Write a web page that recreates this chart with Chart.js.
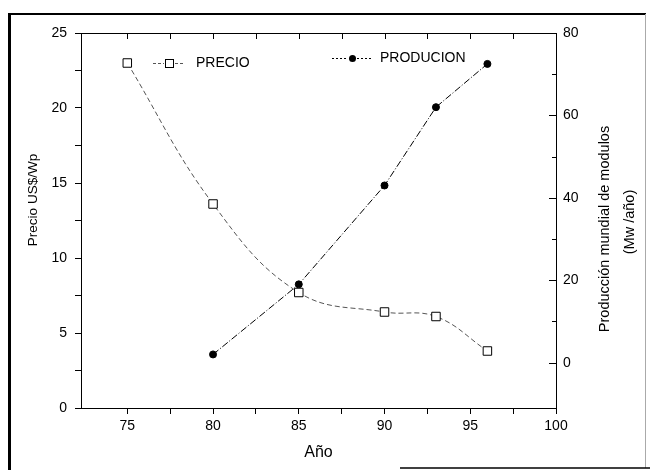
<!DOCTYPE html>
<html>
<head>
<meta charset="utf-8">
<script src="https://cdn.jsdelivr.net/npm/chart.js@4/dist/chart.umd.min.js"></script>
<style>
  html, body { margin: 0; padding: 0; background: #fff; }
  #wrap { width: 650px; height: 470px; position: relative; }
</style>
</head>
<body>
<div id="wrap"><canvas id="chart" width="650" height="470"></canvas></div>
<script>
// data
const preciosYears = [75, 80, 85, 90, 93, 96];
const precios = [23, 13.6, 7.7, 6.4, 6.1, 3.8];
const produccionYears = [80, 85, 90, 93, 96];
const produccion = [2, 19, 43, 62, 72.5];

// tick values
const xTicks = [75, 77.5, 80, 82.5, 85, 87.5, 90, 92.5, 95, 97.5, 100];
const leftTicks = [0, 2.5, 5, 7.5, 10, 12.5, 15, 17.5, 20, 22.5, 25];
const rightTicks = [0, 10, 20, 30, 40, 50, 60, 70, 80];

const FONT = "'Liberation Sans', Arial, sans-serif";

const toPoints = (xs, ys) => xs.map((x, i) => ({ x: x, y: ys[i] }));

// frame, top/right tick marks, y titles and the inline legend
const decor = {
    id: 'decor',
    beforeDraw(chart) {
        const ctx = chart.ctx;
        ctx.save();
        ctx.fillStyle = '#fff';
        ctx.fillRect(0, 0, chart.width, chart.height);
        ctx.restore();
    },
    afterDraw(chart) {
        const { ctx, chartArea: a, scales } = chart;
        ctx.save();

        // outer frame
        ctx.strokeStyle = '#000';
        ctx.lineWidth = 2;
        ctx.beginPath(); ctx.moveTo(8, 14); ctx.lineTo(646, 14); ctx.stroke();
        ctx.lineWidth = 3;
        ctx.beginPath(); ctx.moveTo(9.5, 13); ctx.lineTo(9.5, 470); ctx.stroke();
        ctx.lineWidth = 1;
        ctx.strokeStyle = '#aaa';
        ctx.beginPath(); ctx.moveTo(645.5, 14); ctx.lineTo(645.5, 468); ctx.stroke();
        ctx.strokeStyle = '#000';
        ctx.lineWidth = 1.5;
        ctx.beginPath(); ctx.moveTo(400, 468); ctx.lineTo(650, 468); ctx.stroke();

        // top line of the plot box with inward ticks
        ctx.lineWidth = 1;
        ctx.beginPath();
        ctx.moveTo(a.left, a.top + 0.5); ctx.lineTo(a.right, a.top + 0.5);
        scales.x.ticks.forEach(t => {
            const px = Math.round(scales.x.getPixelForValue(t.value)) + 0.5;
            ctx.moveTo(px, a.top); ctx.lineTo(px, a.top + 6);
        });
        ctx.stroke();

        // right axis inward ticks
        ctx.beginPath();
        scales.y2.ticks.forEach(t => {
            const py = Math.round(scales.y2.getPixelForValue(t.value)) + 0.5;
            const len = t.value % 20 === 0 ? 7 : 4;
            ctx.moveTo(a.right, py); ctx.lineTo(a.right - len, py);
        });
        ctx.stroke();

        // y titles (both read bottom to top)
        ctx.fillStyle = '#000';
        ctx.textAlign = 'center';
        ctx.textBaseline = 'middle';
        ctx.save();
        ctx.translate(33, 200);
        ctx.rotate(-Math.PI / 2);
        ctx.font = '13.5px ' + FONT;
        ctx.fillText('Precio US$/Wp', 0, 0);
        ctx.restore();
        ctx.save();
        ctx.translate(605, 229);
        ctx.rotate(-Math.PI / 2);
        ctx.font = '14.5px ' + FONT;
        ctx.fillText('Producción mundial de modulos', 0, 0);
        ctx.fillText('(Mw /año)', 7, 25);
        ctx.restore();

        // legend
        const ds = chart.data.datasets;
        ctx.font = '14px ' + FONT;
        ctx.textAlign = 'left';

        ctx.strokeStyle = '#555';
        ctx.setLineDash([3, 2]);
        ctx.beginPath();
        ctx.moveTo(153, 63.5); ctx.lineTo(164, 63.5);
        ctx.moveTo(175, 63.5); ctx.lineTo(185, 63.5);
        ctx.stroke();
        ctx.setLineDash([]);
        ctx.strokeStyle = '#000';
        ctx.strokeRect(165.5, 59.5, 8, 8);
        ctx.fillText(ds[0].label, 196, 63);

        ctx.setLineDash([2, 2]);
        ctx.beginPath();
        ctx.moveTo(332, 58.5); ctx.lineTo(348, 58.5);
        ctx.moveTo(357, 58.5); ctx.lineTo(372, 58.5);
        ctx.stroke();
        ctx.setLineDash([]);
        ctx.beginPath();
        ctx.arc(352.5, 58.5, 3.5, 0, Math.PI * 2);
        ctx.fill();
        ctx.fillText(ds[1].label, 380, 58);

        ctx.restore();
    }
};

document.addEventListener('DOMContentLoaded', function() {
    const el = document.getElementById('chart');

    new Chart(el.getContext('2d'), {
        type: 'line',
        data: {
            datasets: [{
                label: 'PRECIO',
                data: toPoints(preciosYears, precios),
                yAxisID: 'y',
                borderColor: '#555',
                borderWidth: 1,
                borderDash: [5, 3],
                tension: 0.4,
                pointStyle: 'rect',
                pointRadius: 6,
                pointBackgroundColor: '#fff',
                pointBorderColor: '#000',
                pointBorderWidth: 1
            }, {
                label: 'PRODUCION',
                data: toPoints(produccionYears, produccion),
                yAxisID: 'y2',
                borderColor: '#000',
                borderWidth: 1,
                borderDash: [7, 2, 1, 2],
                tension: 0,
                pointStyle: 'circle',
                pointRadius: 3.5,
                pointBackgroundColor: '#000',
                pointBorderColor: '#000'
            }]
        },
        options: {
            responsive: false,
            animation: false,
            layout: { padding: { top: 33, left: 0, right: 0, bottom: 0 } },
            plugins: {
                legend: { display: false },
                tooltip: { enabled: false }
            },
            scales: {
                x: {
                    type: 'linear',
                    min: 72.3,
                    max: 100,
                    afterBuildTicks: s => { s.ticks = xTicks.map(v => ({ value: v })); },
                    afterFit: s => { s.height = 62; },
                    grid: { drawOnChartArea: false, drawTicks: true, tickLength: 6, color: '#000' },
                    border: { display: true, color: '#000', width: 1 },
                    ticks: {
                        autoSkip: false,
                        maxRotation: 0,
                        padding: 4,
                        color: '#000',
                        font: { family: FONT, size: 14 },
                        callback: v => (v % 5 === 0 ? v : '')
                    },
                    title: {
                        display: true,
                        text: 'Año',
                        color: '#000',
                        font: { family: FONT, size: 16 },
                        padding: { top: 0, bottom: 8 }
                    }
                },
                y: {
                    type: 'linear',
                    position: 'left',
                    min: 0,
                    max: 25,
                    afterBuildTicks: s => { s.ticks = leftTicks.map(v => ({ value: v })); },
                    afterFit: s => { s.width = 81; },
                    grid: { drawOnChartArea: false, drawTicks: true, tickLength: 6, color: '#000' },
                    border: { display: true, color: '#000', width: 1, dash: [6, 3] },
                    ticks: {
                        autoSkip: false,
                        padding: 8,
                        color: '#000',
                        font: { family: FONT, size: 14 },
                        callback: v => (v % 5 === 0 ? v : '')
                    }
                },
                y2: {
                    type: 'linear',
                    position: 'right',
                    min: -11,
                    max: 80,
                    afterBuildTicks: s => { s.ticks = rightTicks.map(v => ({ value: v })); },
                    afterFit: s => { s.width = 94; },
                    grid: { drawOnChartArea: false, drawTicks: false, color: '#000' },
                    border: { display: true, color: '#000', width: 1 },
                    ticks: {
                        autoSkip: false,
                        padding: 7,
                        color: '#000',
                        font: { family: FONT, size: 14 },
                        callback: v => (v % 20 === 0 ? v : '')
                    }
                }
            }
        },
        plugins: [decor]
    });
});
</script>
</body>
</html>
